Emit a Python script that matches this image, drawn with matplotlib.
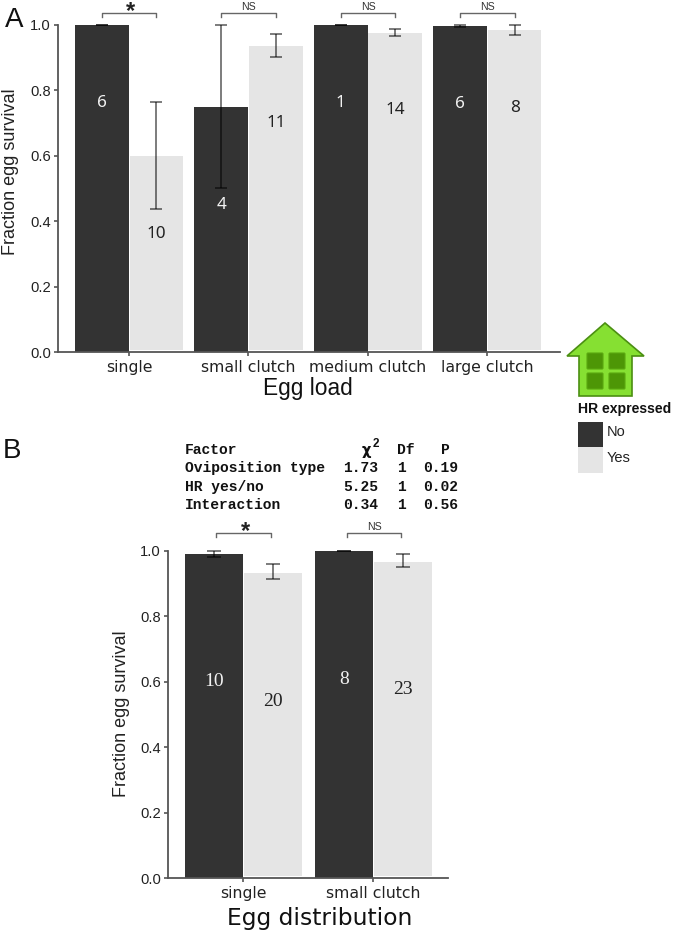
import matplotlib
matplotlib.use('Agg')
import matplotlib.pyplot as plt
from matplotlib.patches import Polygon, FancyBboxPatch, Rectangle

W, H = 675, 936

# panel A
load_labels = ['single', 'small clutch', 'medium clutch', 'large clutch']
load_no = [1.0, 0.75, 1.0, 0.996]
load_yes = [0.6, 0.936, 0.975, 0.983]
load_no_low = [1.0, 0.5, 0.999, 0.992]
load_no_high = [1.0, 1.0, 1.0, 1.0]
load_yes_low = [0.437, 0.9, 0.966, 0.97]
load_yes_high = [0.763, 0.973, 0.987, 0.998]
load_no_n = ['6', '4', '1', '6']
load_yes_n = ['10', '11', '14', '8']
load_no_n_y = [0.76, 0.45, 0.76, 0.758]
load_yes_n_y = [0.36, 0.70, 0.738, 0.744]
load_sig = ['*', 'NS', 'NS', 'NS']

# panel B
dist_labels = ['single', 'small clutch']
dist_no = [0.99, 1.0]
dist_yes = [0.932, 0.967]
dist_no_low = [0.98, 1.0]
dist_no_high = [1.0, 1.0]
dist_yes_low = [0.913, 0.95]
dist_yes_high = [0.96, 0.99]
dist_no_n = ['10', '8']
dist_yes_n = ['20', '23']
dist_no_n_y = [0.60, 0.608]
dist_yes_n_y = [0.54, 0.575]
dist_sig = ['*', 'NS']

table_rows = [
    ['Factor', None, 'Df', 'P'],
    ['Oviposition type', '1.73', '1', '0.19'],
    ['HR yes/no', '5.25', '1', '0.02'],
    ['Interaction', '0.34', '1', '0.56'],
]

DARK = '#333333'
LIGHT = '#e5e5e5'
AXIS = '#555555'
SANS = 'Liberation Sans'
DEJA = 'DejaVu Sans'
MONO = 'Liberation Mono'


def px_axes(fig, left, top, right, bottom):
    return fig.add_axes([left / W, 1 - bottom / H, (right - left) / W, (bottom - top) / H])


def bar_panel(ax, labels, no, yes, no_low, no_high, yes_low, yes_high,
              no_n, yes_n, no_n_y, yes_n_y, xlim, n_font, n_size, cap):
    pos = list(range(1, len(labels) + 1))
    width = 0.45
    for i, p in enumerate(pos):
        xn = p - width / 2 - 0.002
        xy = p + width / 2 + 0.005
        ax.bar(xn, no[i], width, color=DARK, edgecolor='none', zorder=2)
        ax.bar(xy, yes[i] - 0.006, width, bottom=0.006, color=LIGHT, edgecolor='none', zorder=2)
        for x, mean, lo, hi in ((xn, no[i], no_low[i], no_high[i]),
                                (xy, yes[i], yes_low[i], yes_high[i])):
            ax.errorbar(x, mean, yerr=[[mean - lo], [hi - mean]], color='black', alpha=0.65,
                        lw=1.1, capsize=cap, capthick=1.1, zorder=3, clip_on=False)
        ax.text(xn, no_n_y[i], no_n[i], color='#f2f2f2', ha='center', va='center',
                family=n_font, fontsize=n_size, zorder=4)
        ax.text(xy, yes_n_y[i], yes_n[i], color='#222222', ha='center', va='center',
                family=n_font, fontsize=n_size, zorder=4)
    ax.set_xlim(*xlim)
    ax.set_ylim(0, 1)
    ax.set_yticks([0, 0.2, 0.4, 0.6, 0.8, 1.0])
    ax.set_xticks(pos)
    ax.set_xticklabels(labels, family=DEJA, fontsize=11.3, color='#222222')
    for s in ('top', 'right'):
        ax.spines[s].set_visible(False)
    for s in ('left', 'bottom'):
        ax.spines[s].set_color(AXIS)
        ax.spines[s].set_linewidth(1.3)
    ax.tick_params(axis='both', color=AXIS, width=1.2, length=3)
    ax.tick_params(axis='y', labelsize=10.6, labelcolor='#222222', pad=2)
    ax.tick_params(axis='x', pad=2.5)
    for t in ax.get_yticklabels():
        t.set_family(SANS)
    ax.patch.set_alpha(0)


def bracket(ov, x0, x1, y, mark):
    ov.plot([x0, x0, x1, x1], [y + 4, y, y, y + 4], color='#666666', lw=1.0,
            solid_joinstyle='round')
    if mark == '*':
        ov.text((x0 + x1) / 2 + 2, y - 1.5, '*', family=SANS, fontsize=17, fontweight='bold',
                color='#222222', ha='center', va='center')
    else:
        ov.text((x0 + x1) / 2, y - 6, mark, family=SANS, fontsize=7.6, color='#333333',
                ha='center', va='center')


fig = plt.figure(figsize=(W / 100, H / 100), dpi=100, facecolor='white')

axA = px_axes(fig, 58, 24.7, 560, 352)
bar_panel(axA, load_labels, load_no, load_yes, load_no_low, load_no_high,
          load_yes_low, load_yes_high, load_no_n, load_yes_n, load_no_n_y, load_yes_n_y,
          (0.405, 4.61), 'Noto Sans', 12.3, 4.3)

axB = px_axes(fig, 168, 550.7, 448, 878)
bar_panel(axB, dist_labels, dist_no, dist_yes, dist_no_low, dist_no_high,
          dist_yes_low, dist_yes_high, dist_no_n, dist_yes_n, dist_no_n_y, dist_yes_n_y,
          (0.42, 2.575), 'Liberation Serif', 14, 4.7)

# overlay in picture pixels for annotations, icon and legend
ov = fig.add_axes([0, 0, 1, 1], zorder=5)
ov.set_xlim(0, W)
ov.set_ylim(H, 0)
ov.axis('off')

for (x0, x1), m in zip([(102, 156), (221, 276), (341, 395), (460, 515)], load_sig):
    bracket(ov, x0, x1, 13, m)
for (x0, x1), m in zip([(216, 271), (347, 401)], dist_sig):
    bracket(ov, x0, x1, 533, m)

ov.text(11, 171.5, 'Fraction egg survival', rotation=90, family=SANS, fontsize=13,
        color='#222222', ha='center', va='center')
ov.text(122, 713.5, 'Fraction egg survival', rotation=90, family=SANS, fontsize=13,
        color='#222222', ha='center', va='center')
ov.text(308, 389, 'Egg load', family=SANS, fontsize=16.4, color='#111111', ha='center', va='center')
ov.text(320, 918, 'Egg distribution', family=DEJA, fontsize=16.8, color='#111111', ha='center', va='center')
ov.text(14, 20, 'A', family=SANS, fontsize=20, color='#111111', ha='center', va='center')
ov.text(12, 451, 'B', family=SANS, fontsize=20, color='#111111', ha='center', va='center')

# statistics table
row_y = [450, 468, 487, 505]
for row, y in zip(table_rows, row_y):
    ov.text(185, y, row[0], family=MONO, fontweight='bold', fontsize=10.5,
            color='#111111', ha='left', va='center')
    if row[1] is not None:
        ov.text(378, y, row[1], family=MONO, fontweight='bold', fontsize=10.5,
                color='#111111', ha='right', va='center')
    else:
        ov.text(366, y, 'χ', family=DEJA, fontweight='bold', fontsize=10.5,
                color='#111111', ha='center', va='center')
        ov.text(375.5, y - 6, '2', family=SANS, fontweight='bold', fontsize=8.5,
                color='#111111', ha='center', va='center')
    ov.text(397, y, row[2], family=MONO, fontweight='bold', fontsize=10.5,
            color='#111111', ha='left', va='center')
    if row[3] == 'P':
        ov.text(445, y, row[3], family=MONO, fontweight='bold', fontsize=10.5,
                color='#111111', ha='center', va='center')
    else:
        ov.text(458, y, row[3], family=MONO, fontweight='bold', fontsize=10.5,
                color='#111111', ha='right', va='center')

# house icon
house = [(605, 323), (644, 356), (632, 356), (632, 396), (579, 396), (579, 356), (567, 356)]
ov.add_patch(Polygon(house, closed=True, facecolor='#86e032', edgecolor='#4b8f12', lw=1.2))
for wx, wy in [(587, 353), (609, 353), (587, 373), (609, 373)]:
    ov.add_patch(FancyBboxPatch((wx + 1, wy + 1), 14, 14, boxstyle='round,pad=1',
                                facecolor='#4d9606', edgecolor='#5aa80f', lw=0.8))

# legend
ov.text(578, 409.5, 'HR expressed', family=SANS, fontweight='bold', fontsize=10.1,
        color='#111111', ha='left', va='center')
ov.add_patch(Rectangle((578, 421.5), 25, 25.5, facecolor=DARK, edgecolor='none'))
ov.add_patch(Rectangle((578, 447), 25, 26, facecolor=LIGHT, edgecolor='none'))
ov.text(607, 432, 'No', family=SANS, fontsize=10.5, color='#222222', ha='left', va='center')
ov.text(607, 458, 'Yes', family=SANS, fontsize=10.5, color='#222222', ha='left', va='center')

fig.savefig('out.png', dpi=100)
